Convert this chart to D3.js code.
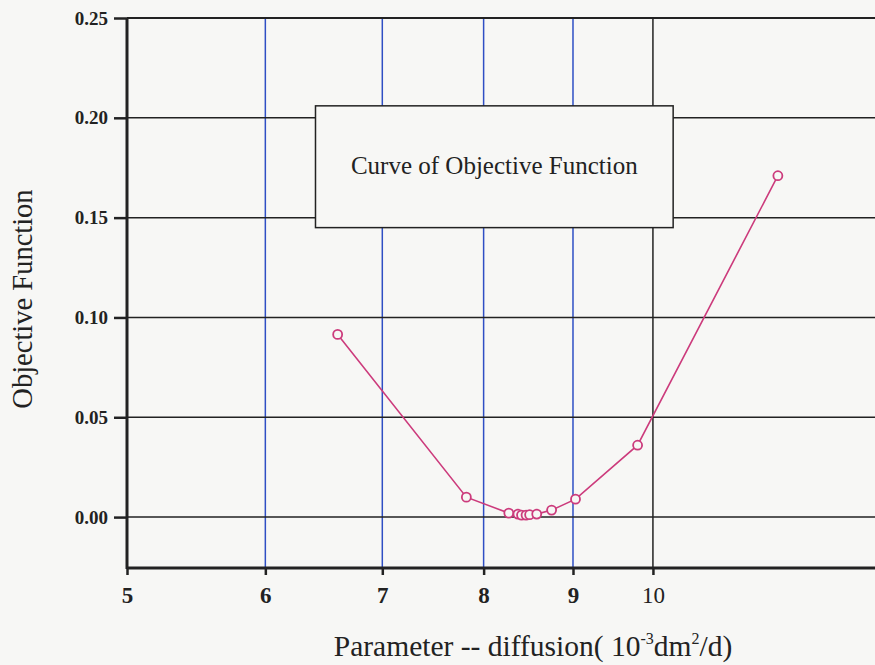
<!DOCTYPE html>
<html>
<head>
<meta charset="utf-8">
<script src="https://cdn.jsdelivr.net/npm/d3@7"></script>
<style>
  body { margin: 0; background: #f7f7f5; }
  svg { display: block; }
  text { font-family: "Liberation Serif", "DejaVu Serif", serif; fill: #222; }
</style>
</head>
<body>
<div id="chart"></div>
<script>
// diffusion parameter (10^-3 dm^2/d) and objective function values
const diffusion = [6.60, 7.82, 8.27, 8.37, 8.41, 8.46, 8.50, 8.58, 8.75, 9.03, 9.80, 11.79]
const objective = [0.0915, 0.010, 0.002, 0.0015, 0.0010, 0.0010, 0.0012, 0.0015, 0.0035, 0.009, 0.036, 0.171]

const xTicks = [5, 6, 7, 8, 9, 10]
const yTicks = [0.00, 0.05, 0.10, 0.15, 0.20, 0.25]
const minorX = [6, 7, 8, 9]

const w = 875
const h = 665
const margin = {top: 18, right: 0, bottom: 97, left: 127}

const lineColor = '#cc3b7c'
const gridBlue = '#2f4fc4'

const svg = d3.select('#chart')
    .append('svg')
    .attr('width', w)
    .attr('height', h)

const x = d3.scaleLog()
    .domain([5, 13.4])
    .range([margin.left, w - margin.right])

const y = d3.scaleLinear()
    .domain([-0.0255, 0.25])
    .range([h - margin.bottom, margin.top])

// vertical grid
svg.append('g')
    .selectAll('line')
    .data(xTicks.slice(1))
    .enter()
    .append('line')
    .attr('x1', d => x(d))
    .attr('x2', d => x(d))
    .attr('y1', y(0.25))
    .attr('y2', y.range()[0])
    .attr('stroke', d => minorX.includes(d) ? gridBlue : '#222')
    .attr('stroke-width', 1.5)

// horizontal grid
svg.append('g')
    .selectAll('line')
    .data(yTicks)
    .enter()
    .append('line')
    .attr('x1', margin.left)
    .attr('x2', w)
    .attr('y1', d => y(d))
    .attr('y2', d => y(d))
    .attr('stroke', '#222')
    .attr('stroke-width', d => d === 0.25 ? 2 : 1.5)

// axes
const yAxis = svg.append('g')
    .attr('transform', `translate(${margin.left},0)`)
    .call(d3.axisLeft(y).tickValues(yTicks).tickFormat(d3.format('.2f')).tickSize(13).tickPadding(6))

const xAxis = svg.append('g')
    .attr('transform', `translate(0,${y.range()[0]})`)
    .call(d3.axisBottom(x).tickValues(xTicks).tickFormat(d => d).tickSize(7).tickPadding(12))

yAxis.select('.domain').remove()
xAxis.select('.domain').remove()

svg.append('line')
    .attr('x1', margin.left).attr('x2', margin.left)
    .attr('y1', y(0.25)).attr('y2', y.range()[0] + 1)
    .attr('stroke', '#222').attr('stroke-width', 3)

svg.append('line')
    .attr('x1', margin.left).attr('x2', w)
    .attr('y1', y.range()[0]).attr('y2', y.range()[0])
    .attr('stroke', '#222').attr('stroke-width', 3)

svg.selectAll('.tick line').attr('stroke', '#222').attr('stroke-width', 2.5)

yAxis.selectAll('.tick text')
    .style('font-family', '"Liberation Serif", serif')
    .style('font-size', '19px')
    .style('font-weight', 'bold')
    .attr('fill', '#222')

xAxis.selectAll('.tick text')
    .style('font-family', '"Liberation Serif", serif')
    .style('font-size', '23px')
    .style('font-weight', d => d === 10 ? 'normal' : 'bold')
    .attr('fill', '#222')

// legend / title box
const bx0 = x(6.41), bx1 = x(10.27)
const by0 = y(0.206), by1 = y(0.145)

svg.append('rect')
    .attr('x', bx0)
    .attr('y', by0)
    .attr('width', bx1 - bx0)
    .attr('height', by1 - by0)
    .attr('fill', '#f7f7f5')
    .attr('stroke', '#222')
    .attr('stroke-width', 1.5)

svg.append('text')
    .attr('x', (bx0 + bx1) / 2)
    .attr('y', (by0 + by1) / 2 + 7)
    .attr('text-anchor', 'middle')
    .style('font-size', '25px')
    .text('Curve of Objective Function')

// curve
const points = diffusion.map((d, i) => [d, objective[i]])

svg.append('path')
    .datum(points)
    .attr('fill', 'none')
    .attr('stroke', lineColor)
    .attr('stroke-width', 1.6)
    .attr('d', d3.line().x(d => x(d[0])).y(d => y(d[1])))

svg.append('g')
    .selectAll('circle')
    .data(points)
    .enter()
    .append('circle')
    .attr('cx', d => x(d[0]))
    .attr('cy', d => y(d[1]))
    .attr('r', 4.5)
    .attr('fill', '#f7f7f5')
    .attr('stroke', lineColor)
    .attr('stroke-width', 1.8)

// axis titles
const xLabel = svg.append('text')
    .attr('x', 533)
    .attr('y', 656)
    .attr('text-anchor', 'middle')
    .style('font-size', '29.5px')

xLabel.append('tspan').text('Parameter -- diffusion( 10')
xLabel.append('tspan').attr('dy', -12).style('font-size', '16px').text('-3')
xLabel.append('tspan').attr('dy', 12).text('dm')
xLabel.append('tspan').attr('dy', -12).style('font-size', '16px').text('2')
xLabel.append('tspan').attr('dy', 12).text('/d)')

svg.append('text')
    .attr('transform', `translate(32,299) rotate(-90)`)
    .attr('text-anchor', 'middle')
    .style('font-size', '28.5px')
    .text('Objective Function')
</script>
</body>
</html>
